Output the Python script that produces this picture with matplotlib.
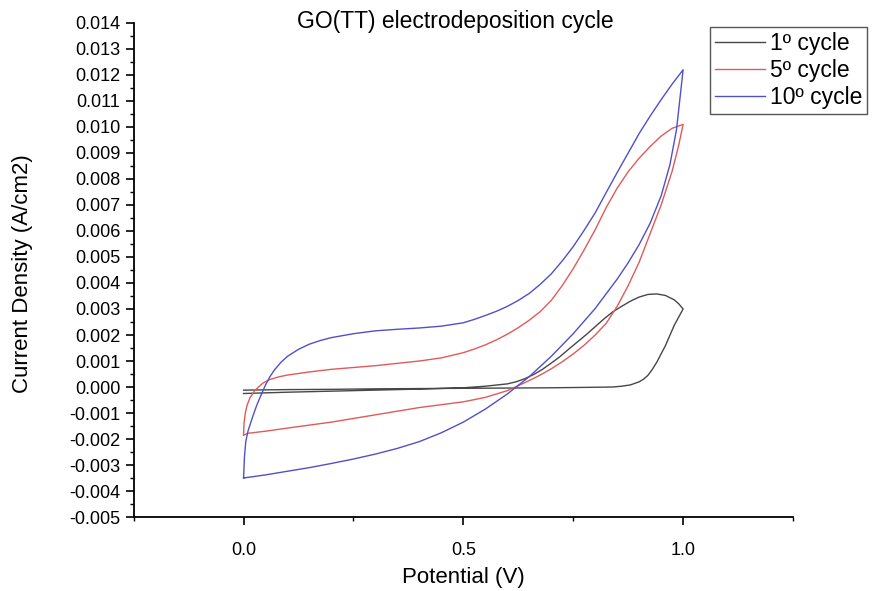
import matplotlib
matplotlib.use('Agg')
import matplotlib.pyplot as plt
from matplotlib.ticker import MultipleLocator, FormatStrFormatter

plt.rcParams['font.family'] = 'Liberation Sans'
plt.rcParams['axes.unicode_minus'] = False

# 1st cycle: forward scan 0 -> 1 V, then reverse 1 -> 0 V
v_c1 = [0.0, 0.1, 0.2, 0.3, 0.4, 0.5, 0.6, 0.7, 0.8, 0.84, 0.86, 0.88, 0.9, 0.91, 0.92, 0.93, 0.94,
        0.96, 0.98, 1.0,
        0.99, 0.98, 0.96, 0.94, 0.92, 0.9, 0.88, 0.86, 0.84, 0.82, 0.8, 0.78, 0.76, 0.74, 0.72, 0.7,
        0.68, 0.66, 0.64, 0.62, 0.6, 0.55, 0.5, 0.4, 0.3, 0.2, 0.1, 0.0]
i_c1 = [-0.00012, -0.0001, -0.00009, -0.00007, -0.00006, -0.00005, -0.00004, -0.00003, -0.00001,
        0.0, 0.00003, 0.00008, 0.0002, 0.0003, 0.00045, 0.00068, 0.00095, 0.0016, 0.00238, 0.0030,
        0.0032, 0.00335, 0.00352, 0.00358, 0.00356, 0.00346, 0.0033, 0.0031, 0.00289, 0.00262,
        0.00232, 0.00202, 0.00174, 0.00146, 0.00117, 0.00092, 0.00068, 0.00048, 0.00032, 0.0002,
        0.00012, 0.00003, -0.00003, -0.00008, -0.00012, -0.00016, -0.0002, -0.00025]

# 5th cycle
v_c5 = [0.0, 0.01, 0.05, 0.1, 0.2, 0.3, 0.4, 0.5, 0.55, 0.6, 0.625, 0.65, 0.675, 0.7, 0.725, 0.75,
        0.775, 0.8, 0.825, 0.85, 0.875, 0.9, 0.925, 0.95, 0.975, 0.99, 1.0,
        0.975, 0.95, 0.925, 0.9, 0.875, 0.85, 0.825, 0.8, 0.775, 0.75, 0.725, 0.7, 0.675, 0.65,
        0.625, 0.6, 0.575, 0.55, 0.525, 0.5, 0.45, 0.4, 0.3, 0.2, 0.15, 0.1, 0.08, 0.06, 0.045,
        0.035, 0.025, 0.015, 0.008, 0.004, 0.001, 0.0]
i_c5 = [-0.00185, -0.00178, -0.0017, -0.00158, -0.00135, -0.00107, -0.00079, -0.00057, -0.0004,
        -0.00014, 0.00005, 0.00025, 0.00046, 0.0007, 0.00097, 0.00127, 0.00161, 0.002, 0.00245,
        0.0031, 0.0039, 0.0048, 0.0059, 0.007, 0.0083, 0.0093, 0.0101,
        0.00995, 0.00965, 0.00925, 0.0088, 0.00828, 0.00765, 0.0069, 0.00605, 0.00528, 0.00455,
        0.0039, 0.00333, 0.0029, 0.00257, 0.00228, 0.00203, 0.00181, 0.00162, 0.00146, 0.00132,
        0.00112, 0.001, 0.00082, 0.00068, 0.00058, 0.00046, 0.00039, 0.00029, 0.00016, 0.00002,
        -0.00015, -0.0004, -0.0007, -0.001, -0.0014, -0.00185]

# 10th cycle
v_c10 = [0.0, 0.05, 0.1, 0.15, 0.2, 0.25, 0.3, 0.35, 0.4, 0.45, 0.5, 0.55, 0.6, 0.65, 0.7, 0.75,
         0.8, 0.85, 0.875, 0.9, 0.925, 0.95, 0.97, 0.985, 1.0,
         0.975, 0.95, 0.925, 0.9, 0.875, 0.85, 0.825, 0.8, 0.775, 0.75, 0.725, 0.7, 0.675, 0.65,
         0.625, 0.6, 0.575, 0.55, 0.525, 0.5, 0.45, 0.4, 0.35, 0.3, 0.25, 0.2, 0.175, 0.15, 0.125,
         0.1, 0.085, 0.07, 0.06, 0.05, 0.04, 0.03, 0.02, 0.01, 0.005, 0.002, 0.0]
i_c10 = [-0.0035, -0.00338, -0.00324, -0.0031, -0.00294, -0.00277, -0.00258, -0.00236, -0.0021,
         -0.00176, -0.00135, -0.00085, -0.00027, 0.0004, 0.00118, 0.00205, 0.00302, 0.00415,
         0.00478, 0.00548, 0.0063, 0.00735, 0.00855, 0.0099, 0.0122,
         0.01165, 0.01105, 0.01042, 0.00975, 0.009, 0.00825, 0.00748, 0.0067, 0.00603, 0.0054,
         0.00485, 0.00435, 0.00395, 0.0036, 0.00333, 0.0031, 0.00291, 0.00275, 0.0026, 0.00247,
         0.00234, 0.00227, 0.00222, 0.00216, 0.00205, 0.0019, 0.00179, 0.00165, 0.00145, 0.00118,
         0.00095, 0.00065, 0.0004, 0.00008, -0.0003, -0.0007, -0.00118, -0.0017, -0.0021, -0.0027,
         -0.0035]

labels = ['1º cycle', '5º cycle', '10º cycle']
colors = ['#474747', '#e05a5a', '#5050c8']

fig = plt.figure(figsize=(8.72, 5.91), dpi=100)
ax = fig.add_axes([0.1533, 0.1252, 0.7561, 0.8359])

lines = []
for v, i, lab, c in zip([v_c1, v_c5, v_c10], [i_c1, i_c5, i_c10], labels, colors):
    ln, = ax.plot(v, i, color=c, lw=1.0, label=lab)
    lines.append(ln)

ax.set_xlim(-0.25, 1.25)
ax.set_ylim(-0.005, 0.014)

ax.spines['top'].set_visible(False)
ax.spines['right'].set_visible(False)
ax.spines['left'].set_linewidth(1.3)
ax.spines['bottom'].set_linewidth(1.3)

ax.xaxis.set_major_locator(MultipleLocator(0.5))
ax.xaxis.set_minor_locator(MultipleLocator(0.25))
ax.xaxis.set_major_formatter(FormatStrFormatter('%.1f'))
ax.yaxis.set_major_locator(MultipleLocator(0.001))
ax.yaxis.set_minor_locator(MultipleLocator(0.0005))
ax.yaxis.set_major_formatter(FormatStrFormatter('%.3f'))
ax.tick_params(which='major', direction='out', length=6, width=1.2, labelsize=13, colors='black')
ax.tick_params(which='minor', direction='out', length=3, width=1.0)
ax.tick_params(axis='x', pad=12)

fig.text(0.522, 0.963, 'GO(TT) electrodeposition cycle', ha='center', va='center', fontsize=16.5)
fig.text(0.531, 0.022, 'Potential (V)', ha='center', va='center', fontsize=16)
fig.text(0.026, 0.537, 'Current Density (A/cm2)', ha='center', va='center', rotation=90, fontsize=16)

# legend sits at the right edge, as in the original
leg = fig.legend(handles=lines, loc='upper left', bbox_to_anchor=(0.8142, 0.9548), fontsize=16.5,
                 frameon=True, fancybox=False, framealpha=1, edgecolor='#555555',
                 handlelength=2.2, handletextpad=0.2, labelspacing=0.18, borderpad=0.22,
                 borderaxespad=0)
leg.get_frame().set_linewidth(1.0)

fig.savefig('out.png', dpi=100)
